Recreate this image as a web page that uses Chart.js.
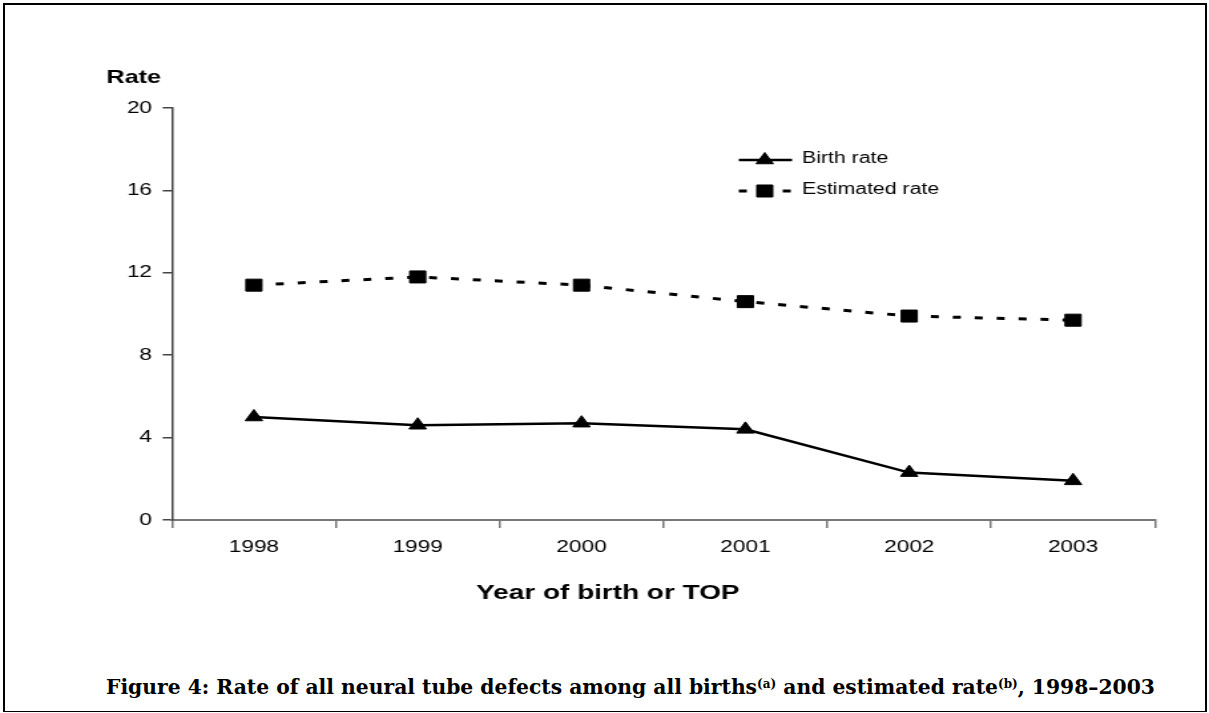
<!DOCTYPE html>
<html>
<head>
<meta charset="utf-8">
<title>Neural tube defects</title>
<script src="https://cdn.jsdelivr.net/npm/chart.js"></script>
<style>
  body { margin: 0; background: #fff; }
  #page { position: relative; width: 1209px; height: 713px; overflow: hidden; }
  #frame {
    position: absolute; left: 3px; top: 3px; width: 1204px; height: 709px;
    border-top: 2px solid #000; border-left: 2px solid #000; border-right: 2px solid #000;
    border-bottom: 1px solid #000; box-sizing: border-box;
  }
  /* the picture is stretched sideways, so the chart is drawn narrow and scaled */
  #chartBox {
    position: absolute; left: 0; top: 0; width: 909px; height: 640px;
    transform: scaleX(1.33); transform-origin: 0 0;
  }
  #caption {
    position: absolute; left: 106px; top: 674px; white-space: nowrap;
    font: bold 20.3px "DejaVu Serif", "Liberation Serif", serif; line-height: 26px; color: #000;
  }
  #caption sup { font-size: 12px; vertical-align: 6px; line-height: 0; }
</style>
</head>
<body>
<div id="page">
  <div id="frame"></div>
  <div id="chartBox"><canvas id="ntdChart"></canvas></div>
  <div id="caption">Figure 4: Rate of all neural tube defects among all births<sup>(a)</sup> and estimated rate<sup>(b)</sup>, 1998&ndash;2003</div>
</div>
<script>
// Chart data
const years = ['1998', '1999', '2000', '2001', '2002', '2003'];
const birthRate = [5.0, 4.6, 4.7, 4.4, 2.3, 1.9];
const estimatedRate = [11.4, 11.8, 11.4, 10.6, 9.9, 9.7];
const rateTicks = [0, 4, 8, 12, 16, 20];
const seriesNames = ['Birth rate', 'Estimated rate'];

const FONT = '"Liberation Sans", Arial, sans-serif';

// Draw a marker the same way as the chart does
function drawMarker(ctx, style, x, y, r) {
    ctx.beginPath();
    if (style === 'triangle') {
        let rad = 0;
        ctx.moveTo(x + Math.sin(rad) * r, y - Math.cos(rad) * r);
        rad += Math.PI * 2 / 3;
        ctx.lineTo(x + Math.sin(rad) * r, y - Math.cos(rad) * r);
        rad += Math.PI * 2 / 3;
        ctx.lineTo(x + Math.sin(rad) * r, y - Math.cos(rad) * r);
        ctx.closePath();
    } else {
        const s = Math.SQRT1_2 * r;
        ctx.rect(x - s, y - s, 2 * s, 2 * s);
    }
    ctx.fill();
    ctx.stroke();
}

// Axis titles and the legend box inside the plot
const extras = {
    id: 'extras',
    afterDraw(chart) {
        const ctx = chart.ctx;
        ctx.save();
        ctx.fillStyle = '#000';
        ctx.textBaseline = 'alphabetic';
        ctx.textAlign = 'left';
        ctx.font = 'bold 19px ' + FONT;
        ctx.fillText('Rate', 80, 83);

        ctx.textAlign = 'center';
        ctx.font = 'bold 21px ' + FONT;
        ctx.fillText('Year of birth or TOP', 457, 599);

        // legend
        ctx.textAlign = 'left';
        ctx.textBaseline = 'middle';
        ctx.font = '16px ' + FONT;
        chart.data.datasets.forEach((ds, i) => {
            const y = 160 + 31 * i;
            ctx.strokeStyle = '#000';
            ctx.lineWidth = ds.borderWidth;
            ctx.setLineDash(ds.borderDash || []);
            ctx.beginPath();
            ctx.moveTo(555.5, y);
            ctx.lineTo(595.5, y);
            ctx.stroke();
            ctx.setLineDash([]);
            ctx.lineWidth = 1;
            ctx.fillStyle = '#000';
            drawMarker(ctx, ds.pointStyle, 575, y, ds.pointRadius);
            ctx.fillText(ds.label, 603, y - 1);
        });
        ctx.restore();
    }
};

const ctxNtd = document.getElementById('ntdChart').getContext('2d');
new Chart(ctxNtd, {
    type: 'line',
    data: {
        labels: years,
        datasets: [{
            label: seriesNames[0],
            data: birthRate,
            borderColor: '#000',
            backgroundColor: '#000',
            borderWidth: 2.5,
            pointStyle: 'triangle',
            pointRadius: 7.5,
            pointBorderWidth: 1,
            pointBackgroundColor: '#000',
            pointBorderColor: '#000',
            tension: 0
        }, {
            label: seriesNames[1],
            data: estimatedRate,
            borderColor: '#000',
            backgroundColor: '#000',
            borderWidth: 3,
            borderDash: [6, 10.5],
            pointStyle: 'rect',
            pointRadius: 8.5,
            pointBorderWidth: 1,
            pointBackgroundColor: '#000',
            pointBorderColor: '#000',
            tension: 0
        }]
    },
    options: {
        responsive: true,
        maintainAspectRatio: false,
        animation: false,
        layout: { padding: { left: 0, right: 40.6, top: 108, bottom: 0 } },
        plugins: {
            legend: { display: false },
            tooltip: { enabled: false }
        },
        scales: {
            x: {
                offset: true,
                grid: { offset: true, drawOnChartArea: false, tickLength: 8, color: '#777', lineWidth: 1.5 },
                border: { color: '#777', width: 2 },
                ticks: { color: '#000', font: { family: FONT, size: 17 }, padding: 9, maxRotation: 0 },
                afterFit(scale) { scale.height = 120; }
            },
            y: {
                min: 0,
                max: 20,
                afterBuildTicks(scale) { scale.ticks = rateTicks.map(v => ({ value: v })); },
                grid: { drawOnChartArea: false, tickLength: 7, color: '#444', lineWidth: 1.5 },
                border: { color: '#444', width: 1.5 },
                ticks: { color: '#000', font: { family: FONT, size: 17 }, padding: 8 },
                afterFit(scale) { scale.width = 129.3; }
            }
        }
    },
    plugins: [extras]
});
</script>
</body>
</html>
